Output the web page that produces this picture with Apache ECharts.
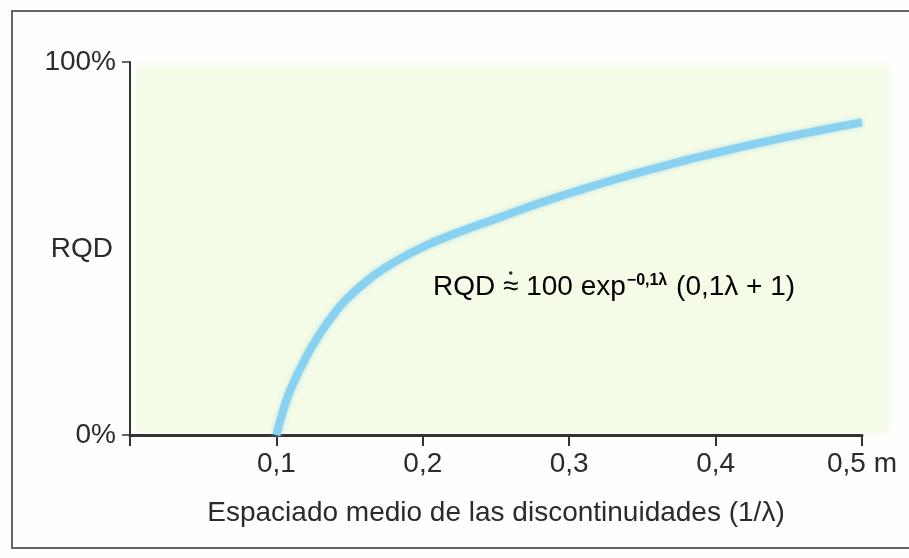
<!DOCTYPE html>
<html>
<head>
<meta charset="utf-8">
<script src="https://cdn.jsdelivr.net/npm/echarts@6/dist/echarts.min.js"></script>
<style>
  html, body { margin: 0; padding: 0; background: #fff; }
  #chart { width: 909px; height: 558px; }
</style>
</head>
<body>
<div id="chart"></div>
<script>
// Mean discontinuity spacing (m) and resulting RQD (%)
const spacing = [0.1, 0.105, 0.11, 0.12, 0.13, 0.14, 0.15, 0.165, 0.18, 0.2,  0.22, 0.25, 0.28, 0.31, 0.34, 0.37, 0.4,  0.43, 0.46, 0.5];
const rqd     = [0,   7,     12.5, 20.7, 27.3, 32.8, 37.2, 42.3,  46.2, 50.4, 53.7, 58,   62.2, 66,   69.5, 72.7, 75.6, 78.3, 80.8, 83.8];

// Axis tick labels
const xTicks = { 0.1: '0,1', 0.2: '0,2', 0.3: '0,3', 0.4: '0,4', 0.5: '0,5 m' };
const yTicks = { 0: '0%', 100: '100%' };

const FONT = '"Liberation Sans", Arial, sans-serif';
const FS = 28;
const TEXT = '#2b2b2b';

// width of a string in the label font, used to place the dot over the ≈ sign
function textWidth(str, size) {
  const ctx = document.createElement('canvas').getContext('2d');
  ctx.font = size + 'px ' + FONT;
  return ctx.measureText(str).width;
}

const formulaX = 433, formulaY = 287;
const dotX = formulaX + textWidth('RQD ', FS) + textWidth('≈', FS) / 2;

const chart = echarts.init(document.getElementById('chart'));

chart.setOption({
  backgroundColor: '#fefefe',
  animation: false,
  grid: { left: 130, right: 47, top: 62, bottom: 123 },
  xAxis: {
    type: 'value',
    min: 0, max: 0.5, interval: 0.1,
    splitLine: { show: false },
    axisLine: { lineStyle: { color: '#333', width: 3 } },
    axisTick: { show: true, length: 11, lineStyle: { color: '#333', width: 2 } },
    axisLabel: {
      margin: 15,
      fontFamily: FONT, fontSize: FS, color: TEXT,
      formatter: v => xTicks[Math.round(v * 10) / 10] || ''
    },
    name: 'Espaciado medio de las discontinuidades (1/λ)',
    nameLocation: 'middle',
    nameGap: 64,
    nameTextStyle: { fontFamily: FONT, fontSize: FS, color: TEXT }
  },
  yAxis: {
    type: 'value',
    min: 0, max: 100, interval: 100,
    splitLine: { show: false },
    axisLine: { show: true, lineStyle: { color: '#333', width: 2 } },
    axisTick: { show: true, length: 8, lineStyle: { color: '#333', width: 1.5 } },
    axisLabel: {
      margin: 14,
      fontFamily: FONT, fontSize: FS, color: TEXT,
      formatter: v => yTicks[v] || ''
    }
  },
  graphic: [
    // outer frame
    { type: 'polyline', z: -5, silent: true,
      shape: { points: [[940, 11], [12, 11], [12, 548], [940, 548]] },
      style: { stroke: '#666', lineWidth: 2, fill: null } },
    // pale green panel behind the plot
    { type: 'rect', z: -4, silent: true,
      shape: { x: 136, y: 66, width: 752, height: 366 },
      style: { fill: '#f4fbe6', shadowBlur: 10, shadowColor: '#f4fbe6' } },
    // axis name on the y side
    { type: 'text', z: 5, silent: true,
      style: { text: 'RQD', x: 113, y: 249, align: 'right', verticalAlign: 'middle',
               font: FS + 'px ' + FONT, fill: TEXT } },
    // formula annotation
    { type: 'text', z: 5, silent: true,
      style: {
        x: formulaX, y: formulaY, verticalAlign: 'middle',
        text: '{a|RQD ≈ 100 exp}{s|−0,1λ}{a| (0,1λ + 1)}',
        rich: {
          a: { fontFamily: FONT, fontSize: FS, color: TEXT },
          s: { fontFamily: FONT, fontSize: 16, fontWeight: 'bold', color: TEXT, verticalAlign: 'top', padding: [0, 1, 12, 1] }
        }
      } },
    // dot above the approximation sign
    { type: 'circle', z: 5, silent: true,
      shape: { cx: dotX, cy: formulaY - 14, r: 1.8 },
      style: { fill: TEXT } }
  ],
  series: [{
    type: 'line',
    data: spacing.map((x, i) => [x, rqd[i]]),
    smooth: 0.5,
    symbol: 'none',
    z: 3,
    lineStyle: { color: '#88d1f0', width: 8, shadowBlur: 4, shadowColor: 'rgba(136,209,240,0.7)' }
  }]
});
</script>
</body>
</html>
